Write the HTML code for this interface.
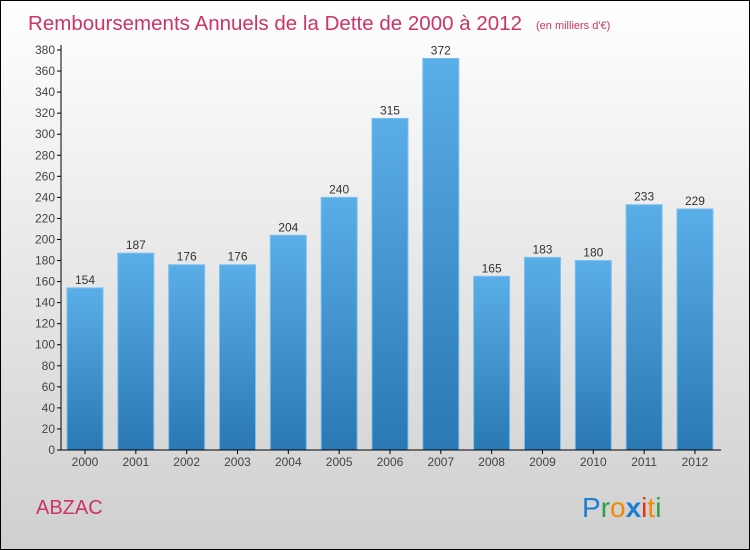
<!DOCTYPE html>
<html><head><meta charset="utf-8"><style>
body{margin:0;width:750px;height:550px;overflow:hidden}
svg{display:block}
text{font-family:"Liberation Sans",sans-serif}
</style></head><body>
<svg id="chart" width="750" height="550">
<defs>
<linearGradient id="bg" x1="0" y1="0" x2="0" y2="1"><stop offset="0" stop-color="#ffffff"/><stop offset="1" stop-color="#cfcfcf"/></linearGradient>
<linearGradient id="bar" x1="0" y1="0" x2="0" y2="1"><stop offset="0" stop-color="#5aaee8"/><stop offset="1" stop-color="#2a78b4"/></linearGradient>
</defs>
<rect x="0.5" y="0.5" width="749" height="549" fill="url(#bg)" stroke="#000"/>
<text x="28" y="30" font-size="20.5" fill="#cc3366" textLength="494">Remboursements Annuels de la Dette de 2000 à 2012</text>
<text x="536" y="29" font-size="11" fill="#cc3366">(en milliers d'€)</text>
<g id="grid"></g>
<g id="bars"></g>
<line x1="61" y1="45" x2="61" y2="450" stroke="#000"/>
<line x1="61" y1="450" x2="721" y2="450" stroke="#000"/>
<text x="36" y="514" font-size="20" fill="#cc3366">ABZAC</text>
<g font-size="28">
<text x="582" y="517"><tspan fill="#1a7fd4">P</tspan><tspan fill="#2aa04a">r</tspan><tspan fill="#f08a00">o</tspan><tspan fill="#1a7fd4" font-weight="bold">x</tspan><tspan fill="#e03020">i</tspan><tspan fill="#f08a00">t</tspan><tspan fill="#2aa04a">i</tspan></text>
</g>
</svg>
<script>
const years=["2000","2001","2002","2003","2004","2005","2006","2007","2008","2009","2010","2011","2012"];
const values=[154,187,176,176,204,240,315,372,165,183,180,233,229];
const yTicks=[0,20,40,60,80,100,120,140,160,180,200,220,240,260,280,300,320,340,360,380];
const NS="http://www.w3.org/2000/svg";
const y=v=>450-v*400/380;
const x=i=>85+i*50.83;
function mk(t,a,p){const e=document.createElementNS(NS,t);for(const k in a)e.setAttribute(k,a[k]);p.appendChild(e);return e;}
const g=document.getElementById('grid'),b=document.getElementById('bars');
yTicks.forEach(v=>{
 const l=mk('line',{x1:57,x2:61,y1:y(v),y2:y(v),stroke:'#000'},g);
 
 
 const t=mk('text',{x:55,y:y(v)+4,'font-size':12,fill:'#444','text-anchor':'end'},g);t.textContent=v;
 
 
});
years.forEach((yr,i)=>{
 const r=mk('rect',{x:x(i)-18,y:y(values[i]),width:36,height:450-y(values[i]),fill:'url(#bar)',stroke:'#7cc0ee','stroke-width':1},b);
 
 
 const v=mk('text',{x:x(i),y:y(values[i])-4,'font-size':12,fill:'#333','text-anchor':'middle'},b);v.textContent=values[i];
 
 
 const t=mk('text',{x:x(i),y:466,'font-size':12,fill:'#444','text-anchor':'middle'},b);t.textContent=yr;
 
 
 const k=mk('line',{x1:x(i),x2:x(i),y1:450,y2:454,stroke:'#000'},b);
 
 
});
</script>
</body></html>
